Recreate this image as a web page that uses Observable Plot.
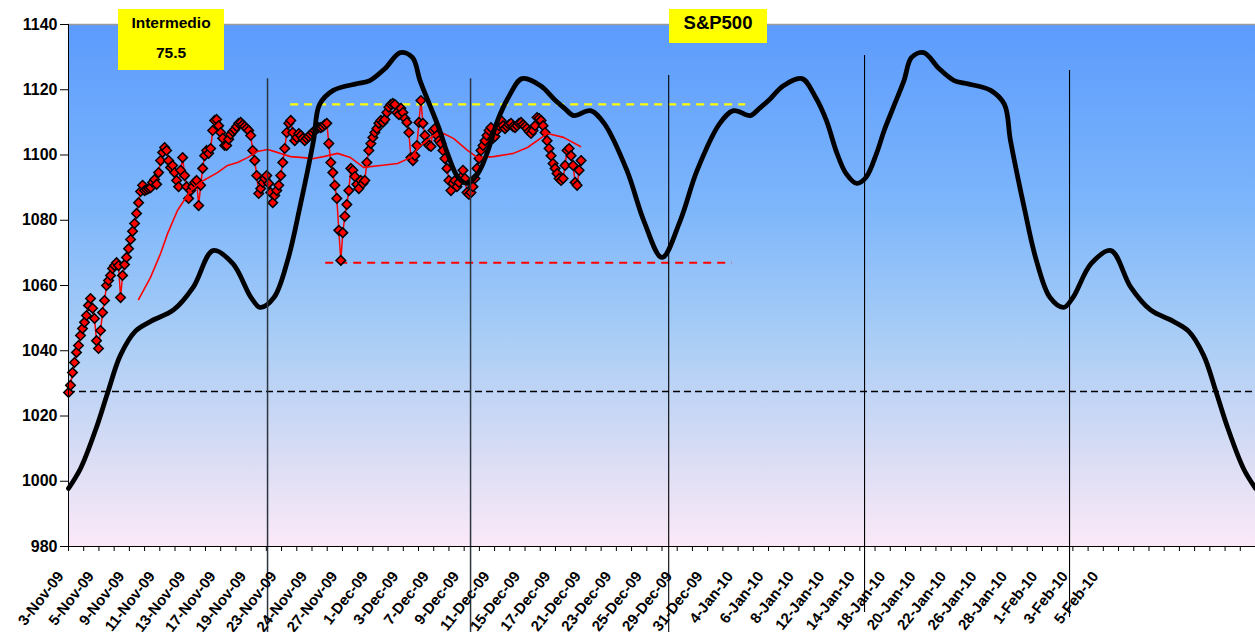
<!DOCTYPE html>
<html><head><meta charset="utf-8">
<script src="https://cdn.jsdelivr.net/npm/d3@7"></script>
<script src="https://cdn.jsdelivr.net/npm/@observablehq/plot@0.6"></script>
<style>
body{margin:0;background:#fff;font-family:"Liberation Sans",Arial,sans-serif;}
#wrap{position:relative;width:1255px;height:632px;overflow:hidden;}
.box{position:absolute;background:#ffff00;font-weight:bold;color:#000;text-align:center;}
.box div{position:absolute;left:0;right:0;line-height:1;}
</style></head><body>
<div id="wrap">
<div id="chart"></div>
<div class="box" style="left:118px;top:9px;width:106px;height:61px;">
  <div style="top:6px;font-size:15.5px;">Intermedio</div>
  <div style="top:36px;font-size:15.5px;">75.5</div>
</div>
<div class="box" style="left:669px;top:9px;width:98px;height:34px;">
  <div style="top:5px;font-size:18.5px;">S&amp;P500</div>
</div>
</div>
<script>
// ---- data ----
const xLabels = ["3-Nov-09","5-Nov-09","9-Nov-09","11-Nov-09","13-Nov-09","17-Nov-09","19-Nov-09","23-Nov-09","24-Nov-09","27-Nov-09","1-Dec-09","3-Dec-09","7-Dec-09","9-Dec-09","11-Dec-09","15-Dec-09","17-Dec-09","21-Dec-09","23-Dec-09","25-Dec-09","29-Dec-09","31-Dec-09","4-Jan-10","6-Jan-10","8-Jan-10","12-Jan-10","14-Jan-10","18-Jan-10","20-Jan-10","22-Jan-10","26-Jan-10","28-Jan-10","1-Feb-10","3-Feb-10","5-Feb-10"];
const yTicks = [980,1000,1020,1040,1060,1080,1100,1120,1140];
const dayTicks = d3.range(0, 79);

// S&P500 intraday readings (about 7.6 readings per trading day)
const readingsPerDay = 7.6;
const priceReadings = [1027.2,1029.4,1033.3,1036.4,1039.5,1041.6,1044.7,1046.8,1048.7,1050.8,
1053.9,1056.0,1053.0,1049.9,1043.1,1040.7,1046.2,1051.7,1055.4,1060.0,
1061.5,1063.1,1065.2,1066.1,1067.0,1066.1,1056.3,1063.1,1066.4,1068.6,
1071.3,1074.1,1076.6,1079.0,1082.1,1085.4,1088.8,1090.7,1089.1,1089.4,
1089.7,1090.0,1091.6,1092.5,1091.0,1094.6,1098.3,1100.8,1102.3,1101.4,
1098.3,1096.2,1096.8,1094.6,1092.2,1090.3,1095.3,1099.2,1093.7,1090.3,
1086.7,1089.1,1090.3,1091.6,1092.2,1084.5,1090.7,1095.9,1099.8,1101.4,
1100.5,1102.0,1107.5,1110.6,1110.9,1109.0,1106.9,1105.1,1102.9,1102.9,
1104.8,1106.3,1107.2,1107.8,1108.7,1109.7,1110.0,1109.3,1108.7,1108.1,
1107.5,1106.0,1101.4,1098.3,1093.7,1088.2,1089.7,1091.6,1092.8,1093.7,
1091.3,1088.5,1085.4,1087.6,1089.1,1090.7,1093.7,1097.7,1102.0,1106.9,
1109.7,1110.6,1106.9,1104.4,1105.4,1106.6,1106.0,1105.1,1104.4,1105.1,
1105.7,1106.3,1106.9,1107.5,1108.1,1108.4,1108.4,1108.7,1109.3,1109.7,
1103.5,1097.7,1094.6,1090.7,1086.7,1076.9,1067.7,1076.2,1081.2,1084.8,
1089.1,1095.9,1095.3,1093.4,1091.0,1089.7,1092.2,1091.3,1092.2,1097.7,
1101.4,1103.5,1105.4,1106.9,1108.1,1109.7,1110.6,1110.0,1110.9,1113.0,
1114.6,1115.5,1115.8,1115.5,1113.0,1112.4,1114.3,1113.0,1111.2,1110.0,
1106.9,1099.2,1098.3,1099.8,1102.9,1110.0,1116.7,1109.7,1106.0,1103.8,
1102.9,1102.6,1107.5,1108.1,1106.0,1104.4,1103.5,1101.4,1098.9,1095.9,
1092.2,1089.1,1091.3,1092.2,1090.3,1091.6,1093.1,1095.3,1092.8,1088.5,
1087.9,1088.5,1090.3,1092.8,1095.9,1098.9,1101.4,1102.9,1104.4,1106.0,
1107.5,1108.4,1105.1,1105.7,1107.5,1109.0,1110.6,1109.0,1108.1,1108.7,
1109.3,1109.7,1108.7,1108.4,1109.0,1109.7,1110.0,1109.3,1108.7,1108.1,
1107.2,1106.6,1107.5,1109.0,1111.5,1111.2,1110.6,1109.0,1106.9,1104.4,
1102.0,1099.8,1097.4,1095.9,1094.3,1092.8,1092.2,1092.8,1096.8,1101.4,
1102.0,1099.8,1096.8,1091.6,1090.7,1095.3,1098.3];

// moving average (day index, value)
const maDay = [4.60,5.39,6.05,6.51,7.16,8.02,8.87,9.79,10.45,11.11,11.76,12.42,13.08,13.73,14.59,15.44,16.10,16.76,17.68,18.53,19.39,20.50,21.62,22.47,23.13,23.98,24.64,25.30,26.22,26.88,27.93,29.24,30.16,31.48,32.53,33.64];
const maValue = [1055.7,1062.5,1069.8,1075.9,1083.0,1089.1,1092.2,1094.6,1096.8,1097.7,1099.2,1101.1,1101.7,1100.8,1099.5,1099.2,1098.9,1099.5,1100.5,1099.2,1096.2,1096.8,1097.4,1099.2,1102.9,1106.0,1106.6,1105.1,1101.4,1099.2,1099.5,1100.5,1102.3,1106.6,1105.4,1102.6];

// cycle curve (day index, value)
const cycleDay = [0,0.8,1.8,2.6,3.4,4.4,5.4,6.9,8.2,9.5,10.8,12.0,12.6,13.5,14.4,15.2,16.1,16.5,17.4,19.0,19.8,20.8,21.8,22.6,23.1,23.8,24.4,24.9,25.6,26.2,26.9,27.5,28.2,28.9,29.8,31.0,32.0,32.6,33.2,34.3,35.2,36.7,37.8,39.0,
40.2,41.3,42.8,43.7,44.8,45.4,46.0,47.0,48.2,49.1,49.8,50.5,51.1,51.8,52.4,53.1,53.6,54.2,54.9,55.4,56.2,57.2,58.2,59.0,60.6,61.5,61.9,62.8,63.6,64.5,65.4,66.0,67.2,68.5,69.8,71.1,72.6,73.6,74.6,75.4,76.2,77.2,78.0];
const cycleValue = [997.8,1004,1016,1027.5,1038.5,1046,1049,1052.5,1059.5,1070.7,1066.7,1056.3,1053.3,1056.3,1067.7,1083.9,1104.4,1115.5,1119.8,1121.9,1122.8,1126.5,1131.4,1129.9,1122.8,1114.6,1107.5,1100.5,1093.1,1091.3,1094.3,1100.5,1110.6,1117.6,1123.4,1121.3,1116.7,1114.3,1112.1,1113.6,1109.7,1095.2,1079.9,1068.6,
1079.9,1095.2,1109.7,1113.6,1112.1,1114.3,1116.7,1121.3,1123.4,1117.6,1110.6,1100.5,1094.3,1091.3,1093.1,1100.5,1107.5,1114.6,1122.8,1129.9,1131.4,1126.5,1122.8,1121.9,1119.8,1115.5,1104.4,1083.9,1067.7,1056.3,1053.3,1056.3,1066.7,1070.7,1059.5,1052.5,1049,1046,1038.5,1027.5,1016,1004,997.8];

// horizontal levels
const resistance = {value: 1115.5, from: 14.6, to: 44.5};
const support = {value: 1067.0, from: 16.9, to: 43.6};
const baseLevel = {value: 1027.5, from: 0, to: 78};

// vertical cycle markers
const cycleLineDay = [13.08, 26.42, 39.44, 52.31, 65.78];
const cycleLineTop = [1123.4, 1123.4, 1124.4, 1130.5, 1125.9];
const cycleLineBottom = [953.6, 953.6, 953.6, 959.8, 958.2];

// ---- chart ----
const cycle = cycleDay.map((d, i) => ({x: d, y: cycleValue[i]}));
const ma = maDay.map((d, i) => ({x: d, y: maValue[i]}));
const price = priceReadings.map((v, i) => ({x: i / readingsPerDay, y: v}));
const vlines = cycleLineDay.map((d, i) => ({x: d, y1: cycleLineTop[i], y2: cycleLineBottom[i]}));

const svg = Plot.plot({
  width: 1255, height: 632,
  marginLeft: 68, marginRight: 0, marginTop: 24, marginBottom: 86,
  style: {fontFamily: "'Liberation Sans', Arial, sans-serif", fontSize: "16px", fontWeight: "bold", color: "#000", background: "transparent", overflow: "visible"},
  x: {domain: [0, 78], ticks: dayTicks, tickSize: 5, tickFormat: () => "", label: null},
  y: {domain: [980, 1140], ticks: yTicks, tickSize: 8, tickPadding: 3, label: null, tickFormat: d => String(d)},
  marks: [
    Plot.frame({fill: "#9cc6f8"}),
    Plot.ruleY([baseLevel], {y: "value", x1: "from", x2: "to", stroke: "#000", strokeWidth: 1.6, strokeDasharray: "7,4"}),
    Plot.ruleY([resistance], {y: "value", x1: "from", x2: "to", stroke: "#ffff00", strokeWidth: 2.2, strokeDasharray: "8,6"}),
    Plot.ruleY([support], {y: "value", x1: "from", x2: "to", stroke: "#ff0000", strokeWidth: 2, strokeDasharray: "8,6"}),
    Plot.line(price, {x: "x", y: "y", stroke: "#ff0000", strokeWidth: 1.5}),
    Plot.dot(price, {x: "x", y: "y", symbol: "diamond2", r: 4.3, fill: "#ff0000", stroke: "#000", strokeWidth: 1.5}),
    Plot.line(ma, {x: "x", y: "y", stroke: "#ff0000", strokeWidth: 1.6}),
    Plot.line(cycle, {x: "x", y: "y", stroke: "#000", strokeWidth: 4.8, curve: "catmull-rom"}),
    Plot.ruleX(vlines.slice(0, 2), {x: "x", y1: "y1", y2: "y2", stroke: "#2b3540", strokeWidth: 1.5}),
    Plot.ruleX(vlines.slice(2), {x: "x", y1: "y1", y2: "y2", stroke: "#000", strokeWidth: 1.1}),
    Plot.ruleY([1140], {stroke: "#9a9a9a", strokeWidth: 1.5}),
    Plot.ruleX([0], {stroke: "#000", strokeWidth: 1}),
    Plot.ruleY([980], {stroke: "#000", strokeWidth: 1}),
    Plot.text(xLabels, {x: (d, i) => i * 2, y: 980, text: d => d, rotate: -52, textAnchor: "end", dx: -8, dy: 27, fontSize: 15, fontWeight: "bold", fill: "#000"})
  ]
});

const ns = "http://www.w3.org/2000/svg";
const defs = document.createElementNS(ns, "defs");
defs.innerHTML = '<linearGradient id="bgGrad" x1="0" y1="0" x2="0" y2="1">' +
  '<stop offset="0" stop-color="#5c9bfd"/>' +
  '<stop offset="0.35" stop-color="#7db6fb"/>' +
  '<stop offset="0.6" stop-color="#a9cdf6"/>' +
  '<stop offset="0.82" stop-color="#d8dcf4"/>' +
  '<stop offset="1" stop-color="#fbe9f8"/></linearGradient>';
svg.insertBefore(defs, svg.firstChild);
const fr = svg.querySelector('[aria-label="frame"]');
if (fr) {
  const r = fr.tagName.toLowerCase() === "rect" ? fr : fr.querySelector("rect");
  if (r) r.setAttribute("fill", "url(#bgGrad)");
}
document.getElementById("chart").appendChild(svg);
</script>
</body></html>
